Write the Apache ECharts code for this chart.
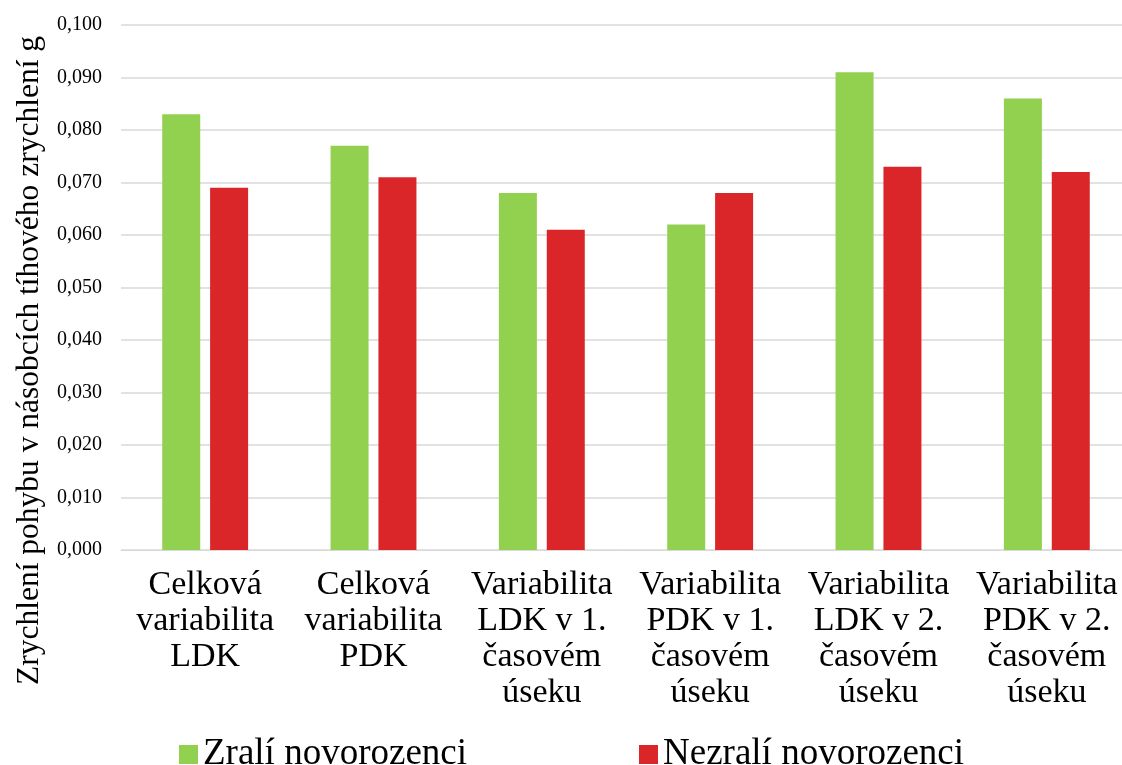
<!DOCTYPE html>
<html>
<head>
<meta charset="utf-8">
<script src="https://cdn.jsdelivr.net/npm/echarts@6/dist/echarts.min.js"></script>
<style>
html,body{margin:0;padding:0;background:#fff;}
#chart{width:1122px;height:765px;}
</style>
</head>
<body>
<div id="chart"></div>
<script>
const categories = [
  "Celková\nvariabilita\nLDK",
  "Celková\nvariabilita\nPDK",
  "Variabilita\nLDK v 1.\nčasovém\núseku",
  "Variabilita\nPDK v 1.\nčasovém\núseku",
  "Variabilita\nLDK v 2.\nčasovém\núseku",
  "Variabilita\nPDK v 2.\nčasovém\núseku"
];
const seriesNames = ["Zralí novorozenci", "Nezralí novorozenci"];
const zrali = [0.083, 0.077, 0.068, 0.062, 0.091, 0.086];
const nezrali = [0.069, 0.071, 0.061, 0.068, 0.073, 0.072];
const yAxisName = "Zrychlení pohybu v násobcích tíhového zrychlení g";

const FONT = "Liberation Serif";
const chart = echarts.init(document.getElementById('chart'));
chart.setOption({
  animation: false,
  backgroundColor: '#ffffff',
  textStyle: { fontFamily: FONT, color: '#000' },
  grid: { left: 121, width: 1010, top: 25, height: 525, containLabel: false, outerBoundsMode: 'none' },
  legend: {
    data: seriesNames,
    left: 174,
    top: 731,
    itemWidth: 19,
    itemHeight: 19,
    itemGap: 172,
    icon: 'rect',
    textStyle: { fontFamily: FONT, fontSize: 37, color: '#000' }
  },
  xAxis: {
    type: 'category',
    data: categories,
    axisLine: { show: true, lineStyle: { color: '#d9d9d9', width: 1 } },
    axisTick: { show: false },
    axisLabel: {
      interval: 0,
      margin: 17,
      fontFamily: FONT,
      fontSize: 34,
      lineHeight: 36,
      color: '#000',
      align: 'center'
    }
  },
  yAxis: {
    type: 'value',
    min: 0,
    max: 0.1,
    interval: 0.01,
    name: yAxisName,
    nameLocation: 'middle',
    nameGap: 75,
    nameRotate: 90,
    nameTextStyle: { fontFamily: FONT, fontSize: 31.5, color: '#000', padding: [0, 146, 0, 0] },
    axisLine: { show: false },
    axisTick: { show: false },
    splitLine: { lineStyle: { color: '#d9d9d9', width: 1.5 } },
    axisLabel: {
      margin: 19,
      fontFamily: FONT,
      fontSize: 20,
      color: '#000',
      formatter: v => v.toFixed(3).replace('.', ',')
    }
  },
  series: [
    {
      name: seriesNames[0],
      type: 'bar',
      data: zrali,
      barWidth: 38,
      barGap: '26%',
      itemStyle: { color: '#92d050' }
    },
    {
      name: seriesNames[1],
      type: 'bar',
      data: nezrali,
      barWidth: 38,
      itemStyle: { color: '#da2628' }
    }
  ]
});
</script>
</body>
</html>
